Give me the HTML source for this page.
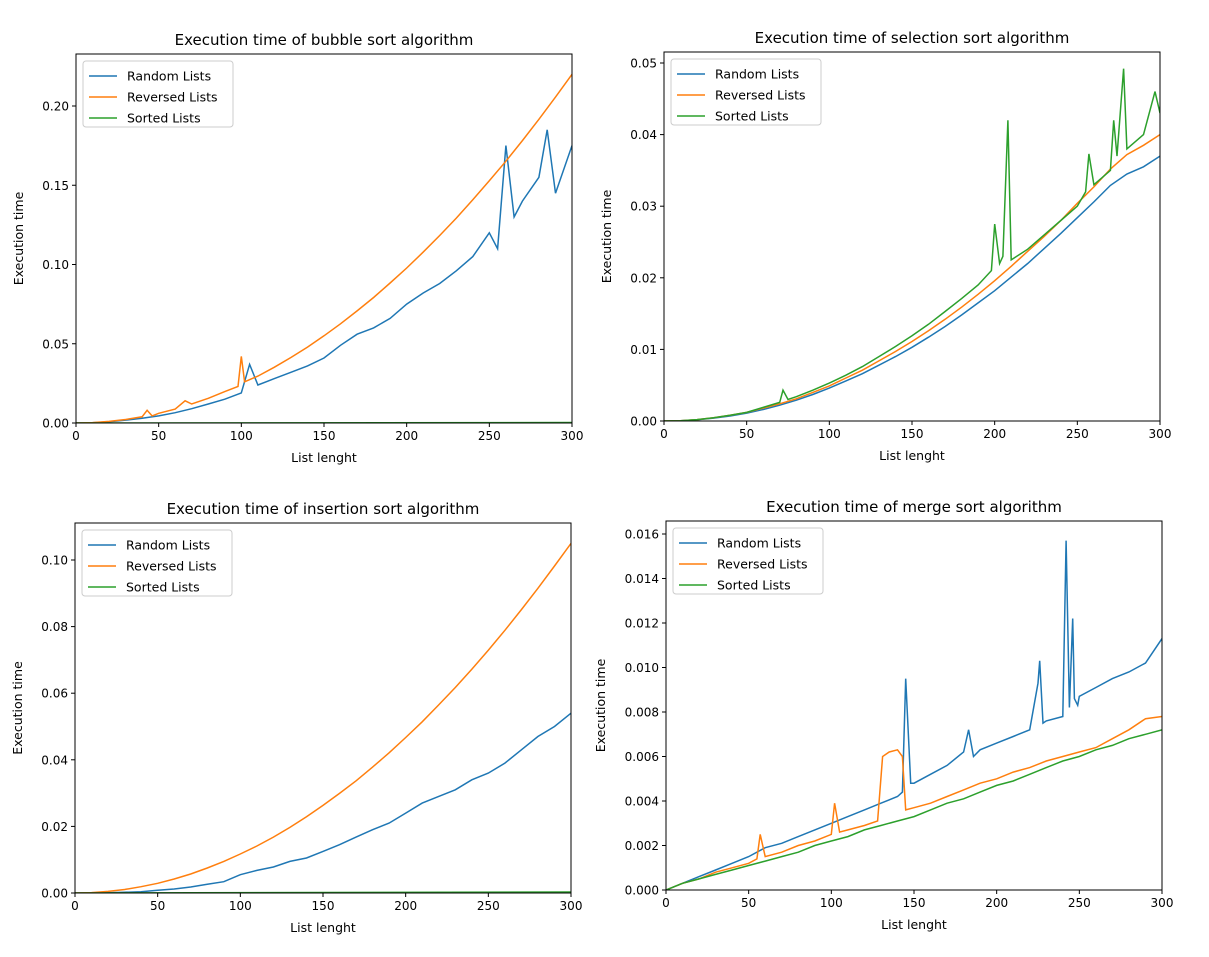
<!DOCTYPE html>
<html><head><meta charset="utf-8"><style>
body{margin:0;background:#fff}
svg text{font-family:"DejaVu Sans","Liberation Sans",sans-serif;fill:#000}
</style></head><body>
<svg id="fig" width="1209" height="952"></svg>
<script>
const xsStep=[0,10,20,30,40,50,60,70,80,90,100,110,120,130,140,150,160,170,180,190,200,210,220,230,240,250,260,270,280,290,300];
// bubble sort
const bubbleRandX=[0,10,20,30,40,50,60,70,80,90,100,105,110,120,130,140,150,160,170,180,190,200,210,220,230,240,250,255,260,265,270,280,285,290,300];
const bubbleRand=[0,0.0002,0.0008,0.0018,0.003,0.0045,0.0065,0.009,0.012,0.015,0.019,0.037,0.024,0.028,0.032,0.036,0.041,0.049,0.056,0.06,0.066,0.075,0.082,0.088,0.096,0.105,0.12,0.11,0.175,0.13,0.14,0.155,0.185,0.145,0.175];
const bubbleRevX=[0,10,20,30,40,43,46,50,60,66,70,80,90,98,100,102,110,120,130,140,150,160,170,180,190,200,210,220,230,240,250,260,270,280,290,300];
const bubbleRev=[0,0.00024,0.001,0.0022,0.0039,0.008,0.0045,0.0061,0.0088,0.014,0.012,0.0156,0.0198,0.023,0.042,0.026,0.0296,0.0352,0.0413,0.0479,0.055,0.0626,0.0707,0.0792,0.0883,0.0978,0.1078,0.1183,0.1293,0.1408,0.1528,0.1652,0.1782,0.1916,0.2056,0.22];
const bubbleSortedX=[0,300];
const bubbleSorted=[0,0.0003];
// selection sort
const selRand=[0,0.00004,0.00018,0.0004,0.0007,0.0011,0.0016,0.0022,0.0029,0.0037,0.0046,0.0056,0.0066,0.0078,0.009,0.0103,0.0117,0.0132,0.0148,0.0165,0.0182,0.0201,0.022,0.0241,0.0262,0.0284,0.0306,0.0329,0.0345,0.0355,0.037];
const selRev=[0,0.00004,0.0002,0.00045,0.0008,0.0012,0.0018,0.0024,0.0031,0.004,0.0049,0.006,0.0071,0.0084,0.0097,0.0111,0.0126,0.0142,0.0159,0.0177,0.0196,0.0216,0.0237,0.0258,0.028,0.0304,0.0327,0.0352,0.0372,0.0385,0.04];
const selSortX=[0,10,20,30,40,50,60,70,72,75,80,90,100,110,120,130,140,150,160,170,180,190,198,200,203,205,208,210,220,230,240,250,255,257,260,270,272,274,278,280,290,297,300];
const selSort=[0,0.00004,0.0002,0.00045,0.0008,0.0012,0.0019,0.0026,0.0043,0.003,0.0034,0.0043,0.0053,0.0064,0.0076,0.009,0.0104,0.0119,0.0135,0.0153,0.0171,0.019,0.021,0.0275,0.022,0.023,0.042,0.0225,0.024,0.026,0.028,0.030,0.032,0.0373,0.033,0.035,0.042,0.037,0.0492,0.038,0.04,0.046,0.043];
// insertion sort
const insRand=[0,0.00002,0.0001,0.0002,0.0004,0.0008,0.0012,0.0018,0.0026,0.0034,0.0055,0.0068,0.0078,0.0095,0.0105,0.0125,0.0145,0.0168,0.019,0.021,0.024,0.027,0.029,0.031,0.034,0.036,0.039,0.043,0.047,0.05,0.054];
const insRev=[0,0.00012,0.00047,0.00105,0.0019,0.0029,0.0042,0.0057,0.0075,0.0095,0.0117,0.0141,0.0168,0.0197,0.0229,0.0263,0.0299,0.0337,0.0378,0.0421,0.0467,0.0514,0.0565,0.0617,0.0672,0.0729,0.0789,0.0851,0.0915,0.0982,0.105];
const insSortedX=[0,300];
const insSorted=[0,0.0003];
// merge sort
const mergeRandX=[0,10,20,30,40,50,60,70,80,90,100,110,120,130,140,143,145,148,150,160,170,180,183,186,190,200,210,220,225,226,228,230,240,242,244,246,247,249,250,260,270,280,290,300];
const mergeRand=[0,0.0003,0.0006,0.0009,0.0012,0.0015,0.0019,0.0021,0.0024,0.0027,0.003,0.0033,0.0036,0.0039,0.0042,0.0044,0.0095,0.0048,0.0048,0.0052,0.0056,0.0062,0.0072,0.006,0.0063,0.0066,0.0069,0.0072,0.0093,0.0103,0.0075,0.0076,0.0078,0.0157,0.0082,0.0122,0.0086,0.0083,0.0087,0.0091,0.0095,0.0098,0.0102,0.0113];
const mergeRevX=[0,10,20,30,40,50,55,57,60,70,80,90,100,102,105,110,120,128,131,135,140,143,145,150,160,170,180,190,200,210,220,230,240,250,260,270,280,290,300];
const mergeRev=[0,0.0003,0.0005,0.0008,0.001,0.0012,0.0014,0.0025,0.0015,0.0017,0.002,0.0022,0.0025,0.0039,0.0026,0.0027,0.0029,0.0031,0.006,0.0062,0.0063,0.006,0.0036,0.0037,0.0039,0.0042,0.0045,0.0048,0.005,0.0053,0.0055,0.0058,0.006,0.0062,0.0064,0.0068,0.0072,0.0077,0.0078];
const mergeSorted=[0,0.0003,0.0005,0.0007,0.0009,0.0011,0.0013,0.0015,0.0017,0.002,0.0022,0.0024,0.0027,0.0029,0.0031,0.0033,0.0036,0.0039,0.0041,0.0044,0.0047,0.0049,0.0052,0.0055,0.0058,0.006,0.0063,0.0065,0.0068,0.007,0.0072];

const C={b:'#1f77b4',o:'#ff7f0e',g:'#2ca02c'};
const NS='http://www.w3.org/2000/svg';
const svg=document.getElementById('fig');
function el(t,a,p){const e=document.createElementNS(NS,t);for(const k in a)e.setAttribute(k,a[k]);(p||svg).appendChild(e);return e;}

const panels=[
 {id:'bubble',title:'Execution time of bubble sort algorithm',L:76,R:572,T:54,B:423,yPer:0.2/(423-106),ticks:[0,0.05,0.1,0.15,0.2],dec:2,
  series:[[bubbleRandX,bubbleRand,C.b],[bubbleRevX,bubbleRev,C.o],[bubbleSortedX,bubbleSorted,C.g]]},
 {id:'selection',title:'Execution time of selection sort algorithm',L:664,R:1160,T:52,B:421,yPer:0.05/(421-63),ticks:[0,0.01,0.02,0.03,0.04,0.05],dec:2,
  series:[[xsStep,selRand,C.b],[xsStep,selRev,C.o],[selSortX,selSort,C.g]]},
 {id:'insertion',title:'Execution time of insertion sort algorithm',L:75,R:571,T:523,B:893,yPer:0.1/(893-560),ticks:[0,0.02,0.04,0.06,0.08,0.1],dec:2,
  series:[[xsStep,insRand,C.b],[xsStep,insRev,C.o],[insSortedX,insSorted,C.g]]},
 {id:'merge',title:'Execution time of merge sort algorithm',L:666,R:1162,T:521,B:890,yPer:0.016/(890-534),ticks:[0,0.002,0.004,0.006,0.008,0.01,0.012,0.014,0.016],dec:3,
  series:[[mergeRandX,mergeRand,C.b],[mergeRevX,mergeRev,C.o],[xsStep,mergeSorted,C.g]]}
];
const xTicks=[0,50,100,150,200,250,300];
panels.forEach(p=>{
 const g=el('g',{});
 
 
 const sx=v=>p.L+(v/300)*(p.R-p.L);
 const sy=v=>p.B-v/p.yPer;
 const clip=el('clipPath',{id:'c'+p.id},g);el('rect',{x:p.L,y:p.T,width:p.R-p.L,height:p.B-p.T},clip);
 p.series.forEach((s,i)=>{
  const d=s[0].map((x,j)=>(j?'L':'M')+sx(x).toFixed(1)+' '+sy(s[1][j]).toFixed(1)).join('');
  const path=el('path',{d:d,fill:'none',stroke:s[2],'stroke-width':1.5,'clip-path':'url(#c'+p.id+')'},g);
  
  
 });
 el('rect',{x:p.L,y:p.T,width:p.R-p.L,height:p.B-p.T,fill:'none',stroke:'#000','stroke-width':1},g);
 xTicks.forEach(t=>{const x=sx(t);el('line',{x1:x,x2:x,y1:p.B,y2:p.B+4,stroke:'#000'},g);
  const tx=el('text',{x:x,y:p.B+17,'font-size':12,'text-anchor':'middle'},g);tx.textContent=t;
  });
 p.ticks.forEach(t=>{const y=sy(t);el('line',{x1:p.L-4,x2:p.L,y1:y,y2:y,stroke:'#000'},g);
  const tx=el('text',{x:p.L-7,y:y+4.5,'font-size':12,'text-anchor':'end'},g);tx.textContent=t.toFixed(p.dec);
  });
 const ti=el('text',{x:(p.L+p.R)/2,y:p.T-9,'font-size':15,'text-anchor':'middle'},g);ti.textContent=p.title;
 
 const xl=el('text',{x:(p.L+p.R)/2,y:p.B+39,'font-size':12.5,'text-anchor':'middle'},g);xl.textContent='List lenght';
 
 const yx=p.dec===3?p.L-61:p.L-53, yy=(p.T+p.B)/2;
 const yl=el('text',{x:yx,y:yy,'font-size':12.5,'text-anchor':'middle',transform:'rotate(-90 '+yx+' '+yy+')'},g);yl.textContent='Execution time';
 
 const lg=el('g',{},g);
 
 el('rect',{x:p.L+7,y:p.T+7,width:150,height:66,rx:3,fill:'#fff',stroke:'#ccc'},lg);
 ['Random Lists','Reversed Lists','Sorted Lists'].forEach((n,i)=>{
  const y=p.T+22+i*21;
  el('line',{x1:p.L+13,x2:p.L+41,y1:y,y2:y,stroke:[C.b,C.o,C.g][i],'stroke-width':1.5},lg);
  const t=el('text',{x:p.L+51,y:y+4.5,'font-size':12.5},lg);t.textContent=n;
  
 });
});
</script>
</body></html>
